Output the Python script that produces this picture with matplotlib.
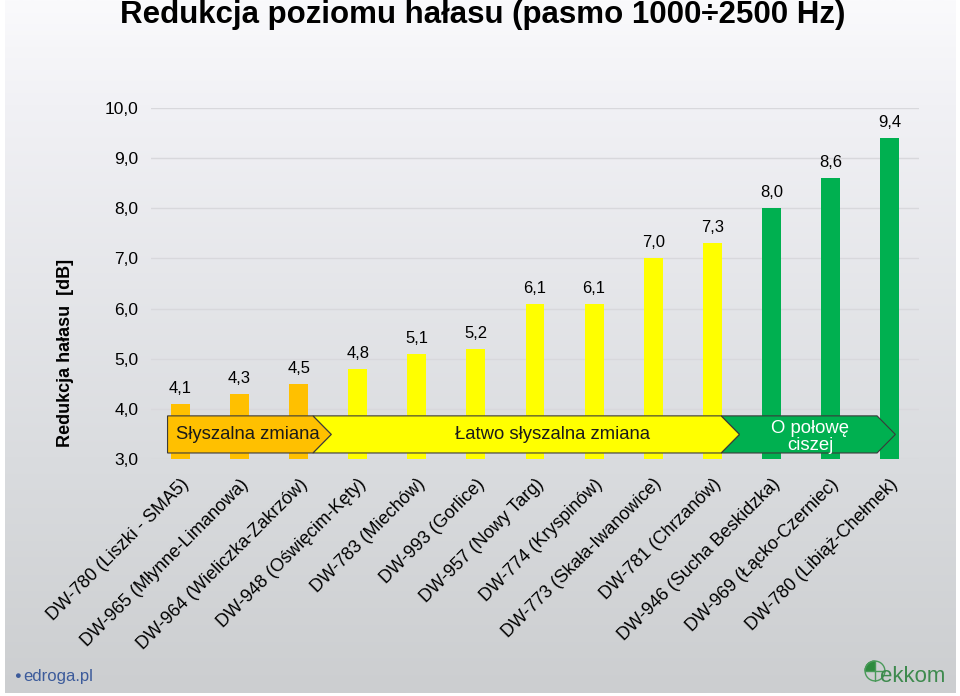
import matplotlib
matplotlib.use("Agg")
import matplotlib.pyplot as plt
import numpy as np
from matplotlib.patches import Polygon, Circle, Wedge

# ---------------- data ----------------
categories = [
    "DW-780 (Liszki - SMA5)",
    "DW-965 (Młynne-Limanowa)",
    "DW-964 (Wieliczka-Zakrzów)",
    "DW-948 (Oświęcim-Kęty)",
    "DW-783 (Miechów)",
    "DW-993 (Gorlice)",
    "DW-957 (Nowy Targ)",
    "DW-774 (Kryspinów)",
    "DW-773 (Skała-Iwanowice)",
    "DW-781 (Chrzanów)",
    "DW-946 (Sucha Beskidzka)",
    "DW-969 (Łącko-Czerniec)",
    "DW-780 (Libiąż-Chełmek)",
]
values = [4.1, 4.3, 4.5, 4.8, 5.1, 5.2, 6.1, 6.1, 7.0, 7.3, 8.0, 8.6, 9.4]
groups = [0, 0, 0, 1, 1, 1, 1, 1, 1, 1, 2, 2, 2]
group_colors = ["#FFC000", "#FFFF00", "#00B050"]
zone_labels = ["Słyszalna zmiana", "Łatwo słyszalna zmiana", "O połowę\nciszej"]
yticks = [3, 4, 5, 6, 7, 8, 9, 10]

# ---------------- fonts ----------------
base = ["Liberation Sans", "DejaVu Sans"]
plt.rcParams["font.family"] = base

W, H = 960, 696
fig = plt.figure(figsize=(W / 100, H / 100), dpi=100)
fig.patch.set_facecolor("white")

# background gradient panel
bg = fig.add_axes([5 / W, 3 / H, 950 / W, 693 / H])
bg.set_axis_off()
stops_y = np.array([0.0, 0.15, 0.66, 1.0])
stops_c = np.array([[250, 250, 252], [241, 241, 245], [218, 220, 223], [204, 206, 208]]) / 255
yy = np.linspace(0, 1, 300)
grad = np.stack([np.interp(yy, stops_y, stops_c[:, k]) for k in range(3)], axis=-1)
bg.imshow(grad[:, None, :], aspect="auto", extent=[0, 1, 1, 0])
bg.set_xlim(0, 1)
bg.set_ylim(1, 0)

# main axes
ax = fig.add_axes([151 / W, 1 - 459 / H, 768 / W, 351 / H])
ax.patch.set_alpha(0)
x = np.arange(len(categories))
colors = [group_colors[g] for g in groups]
ax.bar(x, [v - 3 for v in values], bottom=3, width=0.32, color=colors, zorder=2)
ax.set_xlim(-0.5, len(categories) - 0.5)
ax.set_ylim(3, 10)
ax.set_yticks(yticks)
ax.set_yticklabels([f"{t:.1f}".replace(".", ",") for t in yticks], fontsize=12.5)
ax.yaxis.grid(True, color="#D8D8DC", linewidth=1, zorder=0)
ax.tick_params(axis="y", length=0, pad=9)
ax.tick_params(axis="x", length=0, pad=12)
for s in ax.spines.values():
    s.set_visible(False)
ax.set_xticks(x)
ax.set_xticklabels(categories, rotation=45, ha="right", va="top",
                   rotation_mode="anchor", fontsize=13)

for xi, v in zip(x, values):
    ax.text(xi, v + 0.16, f"{v:.1f}".replace(".", ","), ha="center", va="bottom",
            fontsize=12, zorder=5)

# chevron zones
y_top, y_bot = 3.86, 3.12
y_mid = (y_top + y_bot) / 2
d = 0.31
zones = [(-0.22, 2.24, False), (2.24, 9.15, True), (9.15, 11.79, True)]
text_x = [1.14, 6.29, 10.66]
text_col = ["#1a1a1a", "#1a1a1a", "white"]
for gi in [2, 1, 0]:
    x0, x1, notch = zones[gi]
    pts = [(x0, y_top), (x1, y_top), (x1 + d, y_mid), (x1, y_bot), (x0, y_bot)]
    if notch:
        pts.append((x0 + d, y_mid))
    ax.add_patch(Polygon(pts, closed=True, facecolor=group_colors[gi],
                         edgecolor="#3a3a3a", linewidth=0.8, zorder=3, clip_on=False))
    ax.text(text_x[gi], y_mid - (0.05 if gi == 2 else 0), zone_labels[gi],
            ha="center", va="center",
            fontsize=13.3, color=text_col[gi], zorder=4, linespacing=1.0)

# title and y label
fig.text(483 / W, 1 - 15 / H, "Redukcja poziomu hałasu (pasmo 1000÷2500 Hz)",
         ha="center", va="center", fontsize=22.5, fontweight="bold")
fig.text(65 / W, 1 - 353 / H, "Redukcja hałasu  [dB]", rotation=90,
         ha="center", va="center", fontsize=13, fontweight="bold")

# logos
fig.text(23 / W, 1 - 676 / H, "edroga.pl", ha="left", va="center",
         fontsize=12, color="#3C5B9B")
fig.text(14 / W, 1 - 676 / H, "●", ha="left", va="center", fontsize=8, color="#3C5B9B")
fig.text(880 / W, 1 - 677 / H, "ekkom", ha="left", va="center",
         fontsize=16, color="#3E8A4E")
logo = fig.add_axes([864 / W, 1 - 682 / H, 22 / W, 22 / H])
logo.set_axis_off()
logo.set_xlim(-1, 1)
logo.set_ylim(-1, 1)
logo.set_aspect("equal")
logo.add_patch(Wedge((-0.05, 0.05), 0.85, 90, 180, facecolor="#2E8B3E", edgecolor="#2E8B3E"))
logo.add_patch(Circle((0, 0), 0.9, facecolor="none", edgecolor="#4A9A5A", linewidth=1))
logo.plot([-0.9, 0.9], [0, 0], color="#4A9A5A", linewidth=1)
logo.plot([0, 0], [-0.9, 0.9], color="#4A9A5A", linewidth=1)

fig.savefig("out.png", dpi=100, facecolor=fig.get_facecolor())
